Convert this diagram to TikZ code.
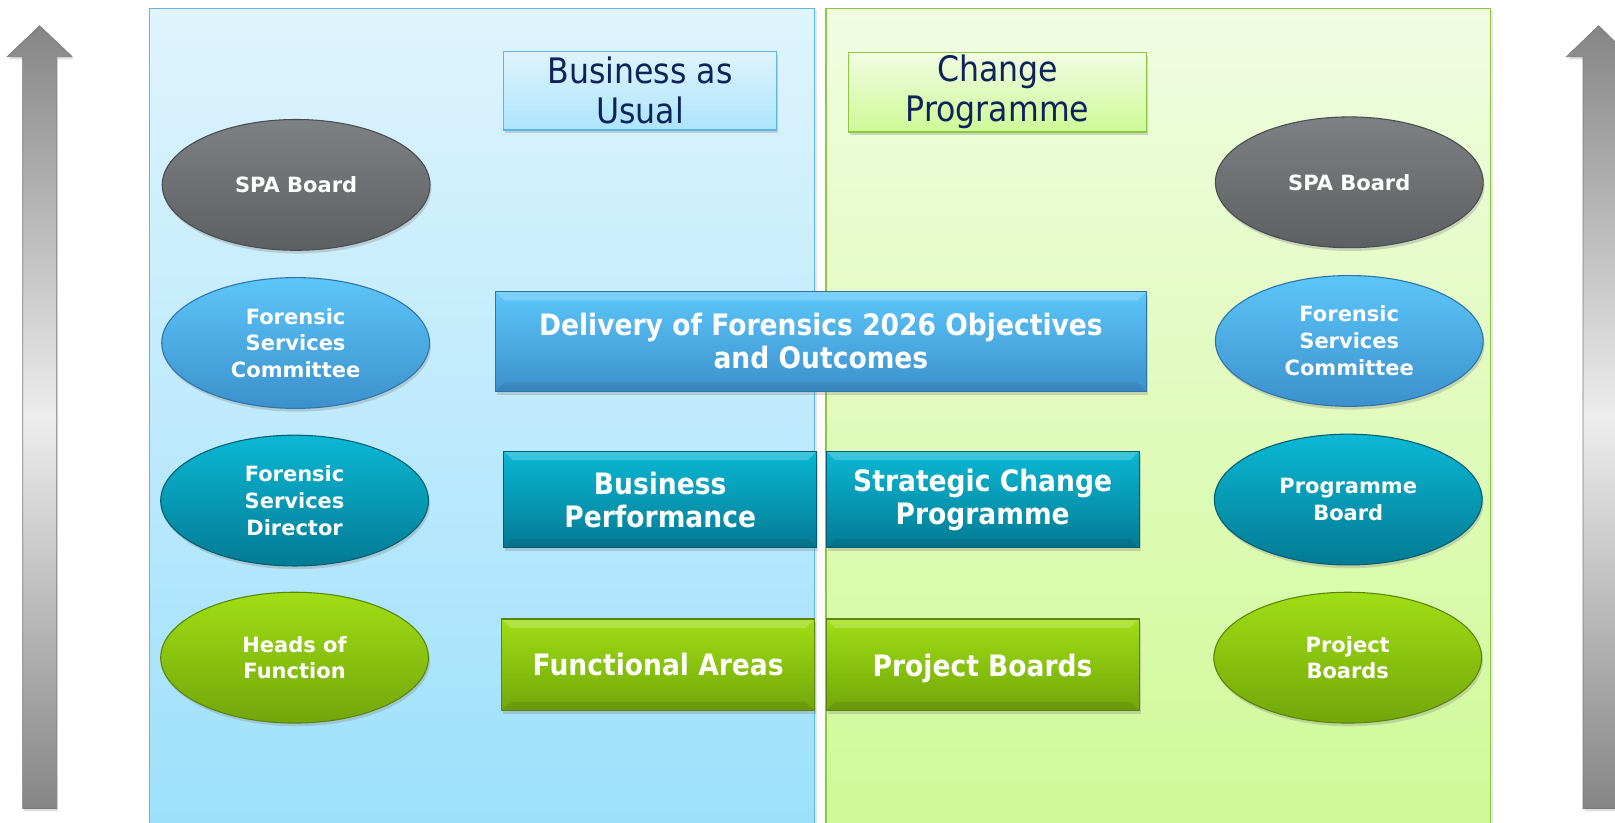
\documentclass[tikz,border=0pt]{standalone}
\usepackage{fontspec}
\setmainfont{DejaVu Sans}
\newfontfamily\boxfont{DejaVu Sans}[FakeStretch=0.9]
\usetikzlibrary{shapes.geometric,shadows}

\definecolor{greyTop}{HTML}{7E8183}
\definecolor{greyBot}{HTML}{5D6062}
\definecolor{greyLine}{HTML}{4A4D4F}
\definecolor{skyTop}{HTML}{5CC6FA}
\definecolor{skyBot}{HTML}{3C90CC}
\definecolor{skyLine}{HTML}{2F74A6}
\definecolor{tealTop}{HTML}{0AB8D5}
\definecolor{tealBot}{HTML}{047A93}
\definecolor{tealLine}{HTML}{045E70}
\definecolor{limeTop}{HTML}{A0DE14}
\definecolor{limeBot}{HTML}{72A60A}
\definecolor{limeLine}{HTML}{5A840A}
\definecolor{bauTop}{HTML}{DFF4FD}
\definecolor{bauBot}{HTML}{9DE0FB}
\definecolor{bauLine}{HTML}{5DB6E6}
\definecolor{chgTop}{HTML}{F1FCE2}
\definecolor{chgBot}{HTML}{CEFA96}
\definecolor{chgLine}{HTML}{8DC63F}
\definecolor{navyText}{HTML}{0E2459}
\definecolor{arrDark}{HTML}{858585}
\definecolor{arrLight}{HTML}{EDEDED}
\definecolor{arrLine}{HTML}{7A7A7A}

\tikzset{
  softshadow/.style={drop shadow={opacity=0.3,shadow xshift=0.8pt,shadow yshift=-1.8pt}},
  oval/.style={ellipse, minimum width=5.2cm, minimum height=2.54cm, inner sep=0pt,
    align=center, text=white, font=\bfseries\fontsize{11.6}{14.8}\selectfont,
    line width=0.6pt, softshadow},
  grey oval/.style={oval, top color=greyTop, bottom color=greyBot, draw=greyLine},
  sky oval/.style={oval, top color=skyTop, bottom color=skyBot, draw=skyLine},
  teal oval/.style={oval, top color=tealTop, bottom color=tealBot, draw=tealLine},
  lime oval/.style={oval, top color=limeTop, bottom color=limeBot, draw=limeLine},
  block/.style={rectangle, inner sep=0pt, align=center, text=white,
    font=\boxfont\bfseries\fontsize{16.3}{18.2}\selectfont, line width=0.6pt, softshadow,
    path picture={
      \fill[white,opacity=0.2] (path picture bounding box.north west) -- (path picture bounding box.north east)
        -- ([shift={(-5pt,-5pt)}]path picture bounding box.north east) -- ([shift={(5pt,-5pt)}]path picture bounding box.north west) -- cycle;
      \fill[black,opacity=0.08] (path picture bounding box.south west) -- (path picture bounding box.south east)
        -- ([shift={(-5pt,5pt)}]path picture bounding box.south east) -- ([shift={(5pt,5pt)}]path picture bounding box.south west) -- cycle;
    }},
  sky block/.style={block, top color=skyTop, bottom color=skyBot, draw=skyLine},
  teal block/.style={block, top color=tealTop, bottom color=tealBot, draw=tealLine},
  lime block/.style={block, top color=limeTop, bottom color=limeBot, draw=limeLine},
  headbox/.style={rectangle, inner sep=0pt, align=center, text=navyText,
    font=\boxfont\fontsize{19.4}{22}\selectfont, line width=0.8pt, softshadow},
  panel/.style={line width=0.8pt, drop shadow={opacity=0.2,shadow xshift=1.5pt,shadow yshift=-1pt}},
  riser/.style={top color=arrDark, bottom color=arrDark, middle color=arrLight, draw=arrLine, line width=0.4pt,
    drop shadow={opacity=0.25,shadow xshift=0.8pt,shadow yshift=-1.5pt}}
}

\begin{document}
\begin{tikzpicture}[x=0.02cm,y=-0.02cm]
  \useasboundingbox (0,0) rectangle (1568,799);
  \clip (0,0) rectangle (1568,799);

  % side arrows
  \draw[riser] (22,785) -- (22,55) -- (7,55) -- (38.5,25) -- (70,55) -- (55,55) -- (55,785) -- cycle;
  \draw[riser] (1537,785) -- (1537,55) -- (1521,55) -- (1552,25) -- (1583,55) -- (1570,55) -- (1570,785) -- cycle;

  % two halves
  \draw[panel, top color=bauTop, bottom color=bauBot, draw=bauLine] (145,8) rectangle (791,805);
  \draw[panel, top color=chgTop, bottom color=chgBot, draw=chgLine] (802,8) rectangle (1447,805);

  \node[headbox, top color=bauTop, bottom color=bauBot!85!white, draw=bauLine,
    minimum width=5.3cm, minimum height=1.52cm] (bau) at (621.5,88) {Business as\\Usual};
  \node[headbox, top color=chgTop, bottom color=chgBot, draw=chgLine,
    minimum width=5.78cm, minimum height=1.54cm] (chg) at (968.5,89.5) {Change\\Programme};

  % left column
  \node[grey oval] (spaL) at (287.5,179.5) {SPA Board};
  \node[sky oval] (fscL) at (287,333) {Forensic\\Services\\Committee};
  \node[teal oval] (fsdL) at (286,486) {Forensic\\Services\\Director};
  \node[lime oval] (hofL) at (286,638.5) {Heads of\\Function};

  % right column
  \node[grey oval] (spaR) at (1310,177) {SPA Board};
  \node[sky oval] (fscR) at (1310,331) {Forensic\\Services\\Committee};
  \node[teal oval] (pgbR) at (1309,485) {Programme\\Board};
  \node[lime oval] (prbR) at (1308.5,638.5) {Project\\Boards};

  % middle blocks
  \node[sky block, minimum width=12.64cm, minimum height=1.94cm] (goals) at (797,331.5)
    {Delivery of Forensics 2026 Objectives\\and Outcomes};
  \node[teal block, minimum width=6.08cm, minimum height=1.88cm] (perf) at (641,485) {Business\\Performance};
  \node[teal block, minimum width=6.08cm, minimum height=1.88cm] (scp) at (954,485) {Strategic Change\\Programme};
  \node[lime block, minimum width=6.08cm, minimum height=1.78cm] (func) at (639,645.5) {Functional Areas};
  \node[lime block, minimum width=6.08cm, minimum height=1.78cm, text depth=0pt] (proj) at (954,645.5) {Project Boards};
\end{tikzpicture}
\end{document}
